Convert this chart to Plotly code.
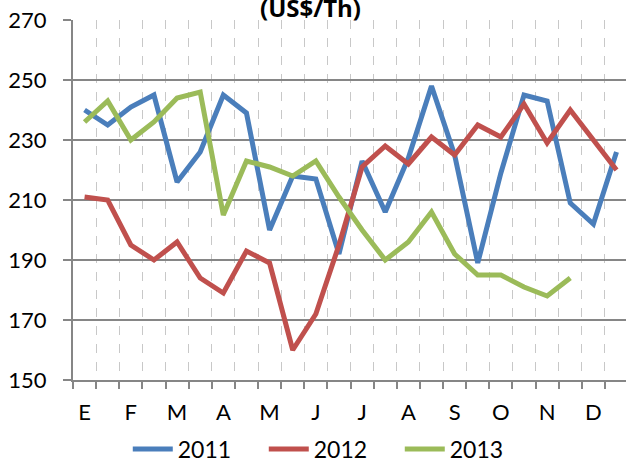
import plotly.graph_objects as go

months = ["E", "F", "M", "A", "M", "J", "J", "A", "S", "O", "N", "D"]
periods = [f"{m}{i}-{h}" for i, m in enumerate(months) for h in (1, 2)]
tick_text = [m if h == 1 else "" for m in months for h in (1, 2)]

y2011 = [240, 235, 241, 245, 216, 226, 245, 239, 200, 218, 217, 192,
         223, 206, 224, 248, 225, 189, 219, 245, 243, 209, 202, 226]
y2012 = [211, 210, 195, 190, 196, 184, 179, 193, 189, 160, 172, 195,
         221, 228, 222, 231, 225, 235, 231, 242, 229, 240, 230, 220]
y2013 = [236, 243, 230, 236, 244, 246, 205, 223, 221, 218, 223, 211,
         200, 190, 196, 206, 192, 185, 185, 181, 178, 184]

series = [("2011", y2011, "#4A7EBB"), ("2012", y2012, "#C0504D"), ("2013", y2013, "#9BBB59")]

FONT = "Lato"
fig = go.Figure()
for name, vals, col in series:
    fig.add_trace(go.Scatter(x=periods[:len(vals)], y=vals, name=name, mode="lines",
                             line=dict(color=col, width=5)))

fig.update_layout(
    width=626, height=462,
    margin=dict(l=73, r=0, t=20, b=82, autoexpand=False),
    paper_bgcolor="white", plot_bgcolor="white",
    font=dict(family=FONT, size=22, color="black"),
    showlegend=True,
    legend=dict(orientation="h", xref="container", yref="container",
                x=0.53, xanchor="center", y=0.028, yanchor="middle",
                font=dict(size=23), entrywidth=81, tracegroupgap=0,
                itemwidth=40),
)
fig.update_xaxes(type="category", categoryorder="array", categoryarray=periods,
                 tickmode="array", tickvals=periods, ticktext=tick_text, tickangle=0,
                 tickson="boundaries", ticks="outside", ticklen=7, tickcolor="#868686",
                 tickwidth=1.5, automargin=False,
                 showgrid=True, gridcolor="#C8C8C8", griddash="dash", gridwidth=1,
                 showline=True, linecolor="#868686", linewidth=2,
                 range=[-0.5, 23.41], ticklabelstandoff=12,
                 tickfont=dict(size=22))
fig.update_yaxes(range=[150, 270], tickvals=[150, 170, 190, 210, 230, 250, 270],
                 ticks="outside", ticklen=8, tickcolor="#868686", tickwidth=1.5,
                 showgrid=True, gridcolor="#868686", gridwidth=1.5, automargin=False,
                 showline=True, linecolor="#868686", linewidth=2,
                 ticklabelstandoff=12, tickfont=dict(size=22), zeroline=False)
fig.add_annotation(text="<b>(US$/Th)</b>", xref="paper", yref="paper", x=(310 - 73) / 553,
                   y=1, xanchor="center", yanchor="middle", yshift=13, showarrow=False,
                   font=dict(size=24, family="Open Sans", color="black"))
fig.write_html("out.html", config={"displayModeBar": False},
               post_script="document.body.style.margin='0';")
